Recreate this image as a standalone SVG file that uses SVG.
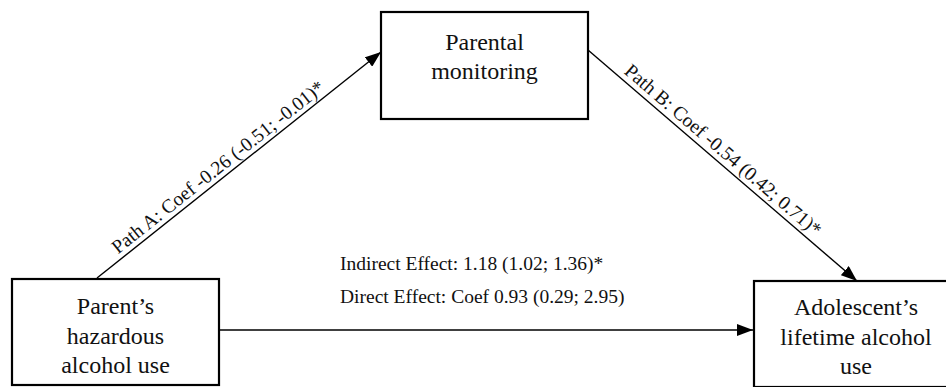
<svg xmlns="http://www.w3.org/2000/svg" width="946" height="387" viewBox="0 0 946 387">
<style>
.box{fill:#fff;stroke:#000;stroke-width:2.2}
.nt{font-size:24px;fill:#111;text-anchor:middle}
.lt{font-size:19.5px;fill:#111}
.edge{stroke:#000;stroke-width:1.4;fill:none;marker-end:url(#arr)}
</style>
<defs>
<marker id="arr" viewBox="0 0 16 12" refX="16" refY="6" markerWidth="16" markerHeight="12" markerUnits="userSpaceOnUse" orient="auto">
<path d="M0,0 L16,6 L0,12 Z" fill="#000"/>
</marker>
</defs>
<rect width="946" height="387" fill="#fff"/>
<g id="connectors">
<line class="edge" x1="97" y1="278" x2="381" y2="52"/>
<line class="edge" x1="588" y1="50" x2="857" y2="281"/>
<line class="edge" x1="219" y1="330" x2="753" y2="330"/>
<text class="lt" font-family="'Liberation Serif', serif" text-anchor="middle" transform="translate(222,172) rotate(-38.4)">Path A: Coef -0.26 (-0.51; -0.01)*</text>
<text class="lt" font-family="'Liberation Serif', serif" text-anchor="middle" transform="translate(719,155) rotate(40.65)">Path B: Coef -0.54 (0.42; 0.71)*</text>
<text class="lt" font-family="'Liberation Serif', serif" x="340" y="270">Indirect Effect: 1.18 (1.02; 1.36)*</text>
<text class="lt" font-family="'Liberation Serif', serif" x="340" y="303">Direct Effect: Coef 0.93 (0.29; 2.95)</text>
</g>
<g id="node-monitoring">
<rect class="box" x="381" y="12" width="207" height="107"/>
<text class="nt" font-family="'Liberation Serif', serif" x="484.5" y="50">Parental</text>
<text class="nt" font-family="'Liberation Serif', serif" x="484.5" y="79">monitoring</text>
</g>
<g id="node-parent">
<rect class="box" x="12" y="279" width="207" height="106"/>
<text class="nt" font-family="'Liberation Serif', serif" x="115.5" y="314">Parent’s</text>
<text class="nt" font-family="'Liberation Serif', serif" x="115.5" y="344">hazardous</text>
<text class="nt" font-family="'Liberation Serif', serif" x="115.5" y="373">alcohol use</text>
</g>
<g id="node-adolescent">
<rect class="box" x="754" y="281" width="207" height="106"/>
<text class="nt" font-family="'Liberation Serif', serif" x="856" y="315">Adolescent’s</text>
<text class="nt" font-family="'Liberation Serif', serif" x="856" y="345">lifetime alcohol</text>
<text class="nt" font-family="'Liberation Serif', serif" x="856" y="374">use</text>
</g>
</svg>
